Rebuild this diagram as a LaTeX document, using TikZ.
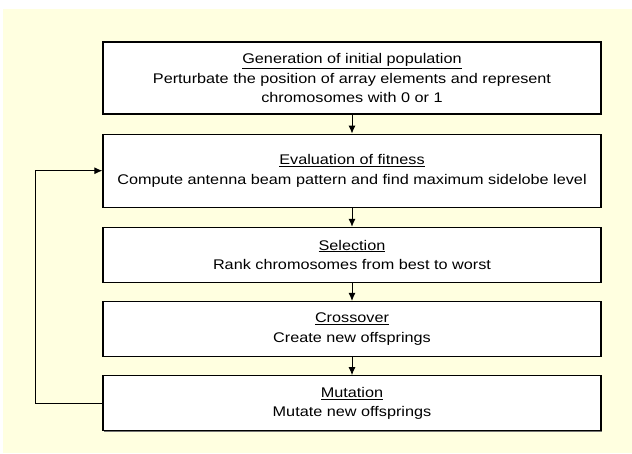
\documentclass[tikz,border=0pt]{standalone}
\usepackage{fontspec}
\setmainfont[FakeStretch=1.16]{Liberation Sans}
\usepackage{tikz}
\usetikzlibrary{arrows.meta,positioning,shadows}
\definecolor{hgelb}{RGB}{255,255,224}

\begin{document}
\begin{tikzpicture}[x=1pt,y=1pt,
  kasten/.style={draw=black,line width=1.2pt,fill=white,minimum width=498pt,inner sep=0pt,align=center,
    font=\fontsize{14}{19.5}\selectfont,drop shadow={shadow xshift=0.8pt,shadow yshift=-0.8pt,fill=black!55,opacity=1}},
  pfeil/.style={line width=1pt,-{Latex[length=8pt,width=7pt]}}]
%Hintergrund, Bild ist 632 x 453
\useasboundingbox (0,0) rectangle (632,453);
\fill[hgelb] (3,0) rectangle (632,444);
%Die Stufen des Algorithmus
\node[kasten,minimum height=72pt] (gen) at (352,375)
  {\underline{Generation of initial population}\\Perturbate the position of array elements and represent\\chromosomes with 0 or 1};
\node[kasten,minimum height=73pt,below=19pt of gen] (eval)
  {\underline{Evaluation of fitness}\\Compute antenna beam pattern and find maximum sidelobe level};
\node[kasten,minimum height=55pt,below=19pt of eval] (sel)
  {\underline{Selection}\\Rank chromosomes from best to worst};
\node[kasten,minimum height=55pt,below=18pt of sel] (cross)
  {\underline{Crossover}\\Create new offsprings};
\node[kasten,minimum height=55pt,below=18pt of cross] (mut)
  {\underline{Mutation}\\Mutate new offsprings};
%Pfeile
\draw[pfeil] (gen) -- (eval);
\draw[pfeil] (eval) -- (sel);
\draw[pfeil] (sel) -- (cross);
\draw[pfeil] (cross) -- (mut);
\coordinate (rueck) at ([xshift=-67pt]mut.west);
\draw[pfeil] (mut.west) -- (rueck) |- (eval.west);
\end{tikzpicture}
\end{document}
